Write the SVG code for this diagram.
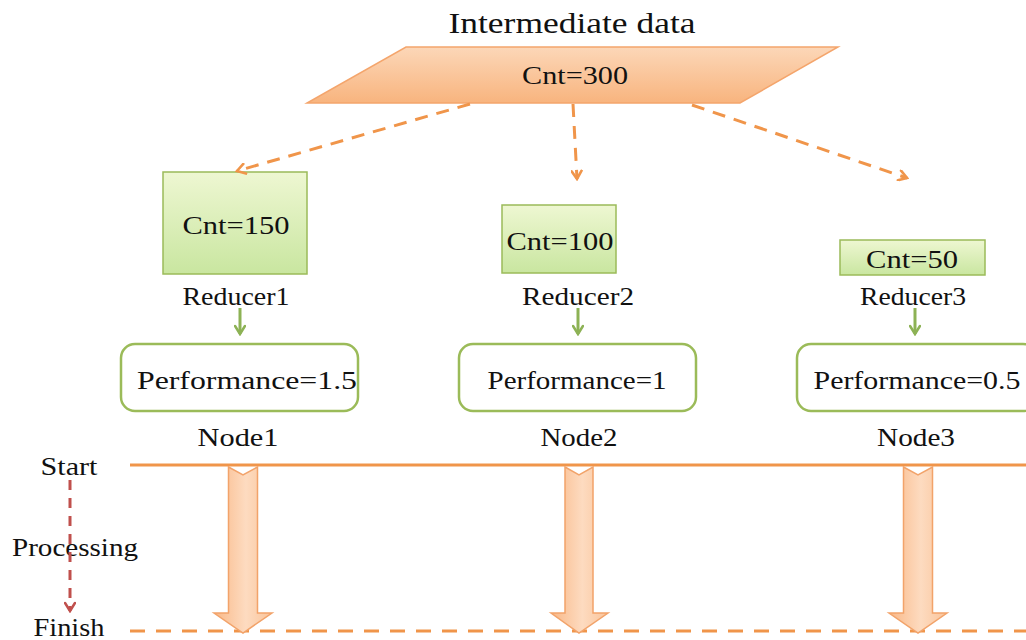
<svg xmlns="http://www.w3.org/2000/svg" width="1026" height="640" viewBox="0 0 1026 640" font-family="Liberation Serif, Times New Roman, serif">
  <defs>
    <linearGradient id="paraFill" x1="0" y1="0" x2="0" y2="1">
      <stop offset="0" stop-color="#FCD7B8"/>
      <stop offset="1" stop-color="#F8B47E"/>
    </linearGradient>
    <linearGradient id="greenFill" x1="0" y1="0" x2="0" y2="1">
      <stop offset="0" stop-color="#EEF7D2"/>
      <stop offset="1" stop-color="#C9E6A0"/>
    </linearGradient>
    <linearGradient id="blockFill" x1="0" y1="0" x2="1" y2="0">
      <stop offset="0" stop-color="#F9B887"/>
      <stop offset="0.55" stop-color="#FDDBC0"/>
      <stop offset="1" stop-color="#FAC49A"/>
    </linearGradient>
    <marker id="headOrange" viewBox="0 0 12 12" refX="10" refY="6" markerWidth="12" markerHeight="12" markerUnits="userSpaceOnUse" orient="auto">
      <path d="M2,1 L10,6 L2,11" fill="none" stroke="#F0954A" stroke-width="2.6" stroke-linecap="round"/>
    </marker>
    <marker id="headGreen" viewBox="0 0 12 12" refX="10" refY="6" markerWidth="12" markerHeight="12" markerUnits="userSpaceOnUse" orient="auto">
      <path d="M2,1 L10,6 L2,11" fill="none" stroke="#8DB255" stroke-width="2.6" stroke-linecap="round"/>
    </marker>
    <marker id="headRed" viewBox="0 0 12 12" refX="10" refY="6" markerWidth="12" markerHeight="12" markerUnits="userSpaceOnUse" orient="auto">
      <path d="M2,1 L10,6 L2,11" fill="none" stroke="#C0504D" stroke-width="2.6" stroke-linecap="round"/>
    </marker>
  </defs>
  <style>
    text { fill: #111; }
    .lbl { font-size: 25px; text-anchor: middle; }
    .title { font-size: 29px; text-anchor: middle; }
    .reducer { fill: url(#greenFill); stroke: #9BBB59; stroke-width: 1.5; }
    .node { fill: #fff; stroke: #9BBB59; stroke-width: 2.5; }
    .dashO { fill: none; stroke: #F0954A; stroke-width: 3; stroke-dasharray: 13 9; marker-end: url(#headOrange); }
    .green { fill: none; stroke: #8DB255; stroke-width: 3; marker-end: url(#headGreen); }
    .block { fill: url(#blockFill); stroke: #F2A36A; stroke-width: 1.5; }
  </style>

  <rect width="1026" height="640" fill="#fff"/>

  <!-- intermediate data -->
  <g id="intermediate">
    <text class="title" x="572" y="33" textLength="247" lengthAdjust="spacingAndGlyphs">Intermediate data</text>
    <polygon points="406,47 838,47 740,103 307,103" fill="url(#paraFill)" stroke="#F4A56C" stroke-width="1.5"/>
    <text class="lbl" x="575" y="84" textLength="106" lengthAdjust="spacingAndGlyphs">Cnt=300</text>
  </g>

  <!-- reducers -->
  <g id="reducer1">
    <rect class="reducer" x="163" y="172" width="144" height="102"/>
    <text class="lbl" x="236" y="234" textLength="107" lengthAdjust="spacingAndGlyphs">Cnt=150</text>
    <text class="lbl" x="236" y="305" textLength="107" lengthAdjust="spacingAndGlyphs">Reducer1</text>
  </g>
  <g id="reducer2">
    <rect class="reducer" x="502" y="205" width="114" height="68"/>
    <text class="lbl" x="560" y="250" textLength="107" lengthAdjust="spacingAndGlyphs">Cnt=100</text>
    <text class="lbl" x="578" y="305" textLength="112" lengthAdjust="spacingAndGlyphs">Reducer2</text>
  </g>
  <g id="reducer3">
    <rect class="reducer" x="840" y="240" width="145" height="35"/>
    <text class="lbl" x="912" y="268" textLength="92" lengthAdjust="spacingAndGlyphs">Cnt=50</text>
    <text class="lbl" x="913" y="305" textLength="106" lengthAdjust="spacingAndGlyphs">Reducer3</text>
  </g>

  <!-- nodes -->
  <g id="node1">
    <rect class="node" x="121" y="344" width="237" height="67" rx="14"/>
    <text class="lbl" x="247" y="389" textLength="220" lengthAdjust="spacingAndGlyphs">Performance=1.5</text>
    <text class="lbl" x="238" y="446" textLength="81" lengthAdjust="spacingAndGlyphs">Node1</text>
  </g>
  <g id="node2">
    <rect class="node" x="459" y="344" width="237" height="67" rx="14"/>
    <text class="lbl" x="577" y="389" textLength="179" lengthAdjust="spacingAndGlyphs">Performance=1</text>
    <text class="lbl" x="579" y="446" textLength="77" lengthAdjust="spacingAndGlyphs">Node2</text>
  </g>
  <g id="node3">
    <rect class="node" x="797" y="344" width="240" height="67" rx="14"/>
    <text class="lbl" x="917" y="389" textLength="207" lengthAdjust="spacingAndGlyphs">Performance=0.5</text>
    <text class="lbl" x="916" y="446" textLength="78" lengthAdjust="spacingAndGlyphs">Node3</text>
  </g>

  <!-- timeline labels -->
  <g id="timeline">
    <text class="lbl" x="69" y="475" textLength="57" lengthAdjust="spacingAndGlyphs">Start</text>
    <text class="lbl" x="75" y="556" textLength="126" lengthAdjust="spacingAndGlyphs">Processing</text>
    <text class="lbl" x="69" y="636" textLength="71" lengthAdjust="spacingAndGlyphs">Finish</text>
  </g>

  <!-- connectors -->
  <g id="connectors">
    <line class="dashO" x1="470" y1="104" x2="237" y2="171"/>
    <line class="dashO" x1="573" y1="104" x2="577" y2="179"/>
    <line class="dashO" x1="692" y1="105" x2="907" y2="178"/>

    <line class="green" x1="240" y1="308" x2="240" y2="334"/>
    <line class="green" x1="578" y1="308" x2="578" y2="334"/>
    <line class="green" x1="915" y1="308" x2="915" y2="334"/>

    <line x1="70" y1="480" x2="70" y2="611" stroke="#C0504D" stroke-width="3" stroke-dasharray="10 8" marker-end="url(#headRed)"/>

    <line x1="130" y1="465" x2="1026" y2="465" stroke="#F0954A" stroke-width="3"/>
    <line x1="130" y1="631" x2="1026" y2="631" stroke="#F0954A" stroke-width="3" stroke-dasharray="15 11"/>

    <path class="block" d="M228.5,467 L243,475 L257.5,467 L257.5,613 L272,613 L243,633 L214,613 L228.5,613 Z"/>
    <path class="block" d="M565,467 L579,475 L593,467 L593,613 L608,613 L579,633 L551,613 L565,613 Z"/>
    <path class="block" d="M903.5,467 L918,475 L932.5,467 L932.5,613 L947,613 L918,633 L889,613 L903.5,613 Z"/>
  </g>
</svg>
